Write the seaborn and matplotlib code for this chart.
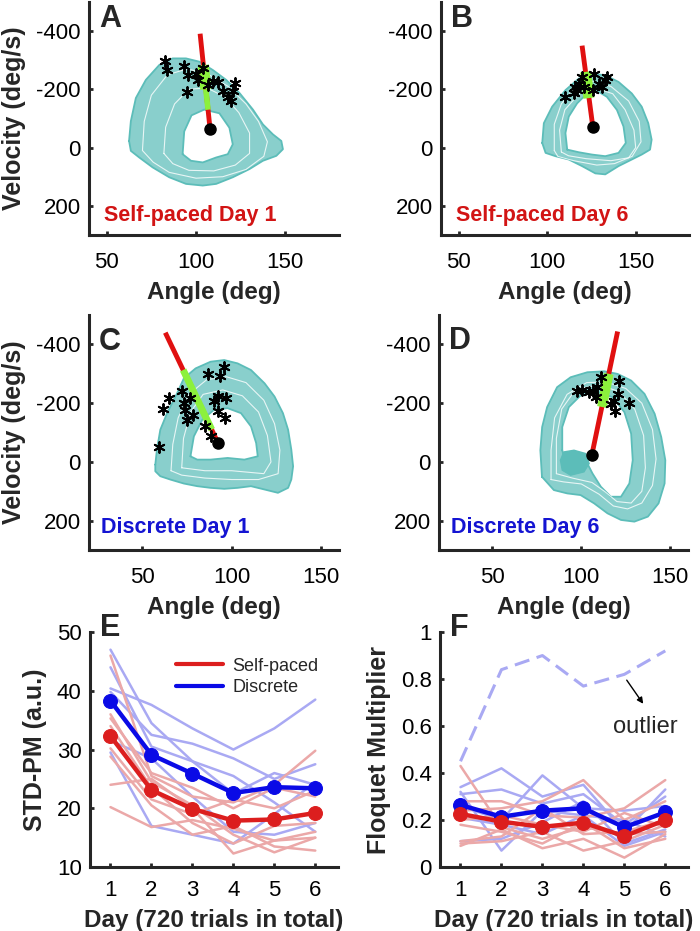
import numpy as np
import pandas as pd
import matplotlib
matplotlib.use('Agg')
import matplotlib.pyplot as plt
from matplotlib.lines import Line2D
import seaborn as sns

# ---- phase portraits (angle deg, velocity deg/s) ----
a_outer_x = [62.5, 63.5, 66.3, 71.9, 79.4, 86.9, 94.4, 101.9, 109.4, 116.9, 124.4, 131.9, 137.5, 143.1, 147.8, 148.7,
             145.0, 137.5, 130.0, 120.6, 111.3, 103.8, 94.4, 85.0, 75.7, 68.2, 63.5]
a_outer_y = [-22.8, -90.8, -170.2, -232.5, -283.5, -306.2, -306.2, -294.9, -266.5, -232.5, -187.2, -130.5, -79.5, -45.4,
             -22.8, 5.6, 28.3, 45.2, 73.6, 101.9, 124.6, 130.3, 124.6, 101.9, 67.9, 33.9, 11.2]
a_inner_x = [92.5, 93.4, 97.5, 104.6, 113.1, 118.7, 120.6, 117.8, 111.3, 103.8, 97.2]
a_inner_y = [22.6, -55.4, -110.8, -130.5, -117.8, -68.1, -11.4, 22.6, 33.9, 50.9, 45.2]
a_mid_x = [70, 71, 75, 84, 95, 106, 118, 128, 135, 140, 138, 128, 115, 100, 85, 76]
a_mid_y = [10, -90, -180, -250, -270, -255, -210, -150, -90, -20, 30, 75, 100, 105, 85, 50]
a_mid2_x = [82, 83, 88, 96, 106, 116, 124, 130, 130, 122, 110, 96, 87]
a_mid2_y = [20, -70, -150, -200, -205, -175, -120, -50, 20, 60, 80, 78, 55]
a_star_x = [82.8, 83.7, 93.5, 95.3, 100.0, 101.0, 95.0, 109.7, 112.2, 115.4, 119.7, 121.6, 121.0, 117.8, 104.1, 106.6]
a_star_y = [-298, -266, -280, -250, -252, -232, -190, -229, -225, -196, -159, -223, -196, -172, -272, -215]
a_section_x = [102.3, 107.9]
a_section_y = [-391, -62.5]
a_green_x = [104.1, 105.5, 106.75]
a_green_y = [-283, -200, -130]

b_outer_x = [97.2, 98.1, 102.8, 110.3, 117.8, 125.3, 132.8, 140.3, 147.8, 153.4, 157.1, 159.0, 158.1, 153.4, 147.8,
             140.3, 132.8, 127.2, 119.7, 112.2, 104.7, 99.1]
b_outer_y = [-15.8, -83.8, -140.5, -197.2, -236.9, -253.9, -248.2, -225.5, -185.9, -140.5, -83.8, -27.1, 6.9, 23.9,
             40.9, 63.6, 91.9, 88.5, 63.6, 40.9, 29.5, 18.2]
b_inner_x = [111.3, 110.3, 112.2, 116.9, 122.5, 128.1, 133.7, 139.4, 143.1, 144.4, 140.3, 132.8, 125.3, 117.8]
b_inner_y = [6.9, -49.8, -106.5, -151.9, -185.9, -195.0, -174.5, -129.2, -72.5, -15.8, 18.2, 29.5, 23.9, 15.9]
b_mid_x = [104, 104, 108, 116, 126, 136, 146, 152, 153, 148, 138, 128, 115, 106]
b_mid_y = [10, -80, -150, -210, -228, -210, -160, -90, -20, 30, 55, 60, 45, 30]
b_mid2_x = [108, 107, 110, 118, 127, 137, 144, 149, 150, 146, 136, 122, 112]
b_mid2_y = [15, -60, -130, -185, -205, -185, -130, -60, 0, 35, 45, 38, 28]
b_star_x = [109.9, 117.8, 116.9, 119.7, 126.2, 125.8, 129.0, 132.8, 133.7, 130.9, 121.0, 115.9, 115.0]
b_star_y = [-175, -220, -197, -243, -254, -197, -220, -231, -243, -209, -209, -209, -186]
b_section_x = [119.7, 125.8]
b_section_y = [-350, -70]
b_green_x = [121.7, 123.6]
b_green_y = [-260, -170]

c_outer_x = [57.2, 58.1, 60.0, 63.8, 69.4, 73.2, 79.8, 88.2, 95.8, 103.3, 110.8, 118.4, 124.0, 128.7, 131.6, 133.4,
             134.4, 133.4, 131.6, 125.9, 118.4, 110.8, 103.3, 95.8, 88.2, 80.7, 73.2, 65.6, 60.0, 57.2]
c_outer_y = [9.2, -41.7, -109.5, -166.0, -233.8, -284.7, -318.5, -341.2, -346.8, -335.5, -312.9, -267.7, -222.5,
             -166.0, -109.5, -41.7, 14.8, 60.0, 88.3, 105.2, 93.9, 82.6, 88.3, 91.6, 88.3, 82.6, 73.6, 60.0, 48.7, 31.8]
c_inner_x = [76.9, 78.8, 83.5, 90.1, 97.7, 105.2, 110.8, 113.7, 114.6, 107.1, 97.7, 88.2, 80.7]
c_inner_y = [-19.1, -86.9, -143.4, -177.3, -182.9, -166.0, -120.8, -64.3, -19.1, -7.8, -13.5, -7.8, -7.8]
c_mid_x = [66, 67, 70, 76, 86, 97, 108, 118, 124, 127, 126, 115, 100, 85, 72]
c_mid_y = [30, -60, -150, -230, -280, -290, -270, -210, -130, -40, 40, 60, 60, 55, 45]
c_mid2_x = [72, 73, 77, 84, 95, 106, 115, 120, 122, 118, 100, 85]
c_mid2_y = [20, -80, -170, -230, -245, -225, -170, -90, 0, 40, 30, 30]
c_star_x = [59.1, 61.3, 65.1, 71.9, 73.2, 74.1, 75.1, 76.9, 78.4, 86.7, 93.5, 95.8, 92.4, 96.7, 90.1, 92.4, 96.3,
            84.9, 88.2]
c_star_y = [-51, -180, -219, -240, -202, -177, -143, -217, -160, -298, -294, -322, -223, -217, -206, -172, -149,
            -121, -89]
c_section_x = [62.8, 92.4]
c_section_y = [-440, -64]
c_green_x = [72.8, 88.8]
c_green_y = [-313, -110]

d_outer_x = [77.9, 77.0, 78.0, 80.8, 86.4, 94.0, 103.4, 112.9, 120.4, 128.0, 135.5, 141.2, 144.9, 147.2, 146.8,
             143.4, 137.4, 129.8, 122.3, 114.7, 107.2, 99.6, 92.1, 84.6]
d_outer_y = [50.7, -39.7, -118.8, -186.6, -254.4, -288.3, -305.3, -308.6, -299.6, -277.0, -231.8, -164.0, -84.9,
             -5.8, 73.3, 141.1, 186.3, 203.3, 197.6, 175.0, 141.1, 112.9, 107.2, 95.9]
d_inner_x = [89.3, 89.3, 93.0, 99.6, 109.1, 117.6, 124.2, 128.0, 128.9, 127.0, 122.3, 116.6, 111.0, 106.3, 103.4,
             95.9, 90.2]
d_inner_y = [-39.7, -118.8, -186.6, -226.1, -237.4, -220.5, -169.6, -96.2, -5.8, 73.3, 118.5, 118.5, 84.6, 39.4,
             5.5, -5.8, -17.1]
d_mid_x = [83, 83, 85, 92, 103, 114, 125, 134, 140, 142, 140, 134, 126, 118, 110, 100, 90]
d_mid_y = [60, -40, -150, -230, -270, -272, -250, -200, -110, -10, 80, 140, 160, 150, 110, 75, 68]
d_mid2_x = [86, 86, 89, 97, 110, 121, 130, 135, 136, 134, 128, 120, 113, 106, 95]
d_mid2_y = [40, -80, -180, -248, -262, -240, -180, -90, 20, 100, 140, 135, 100, 70, 55]
d_blob_x = [88.3, 90.2, 95.9, 102.5, 104.4, 101.5, 94.0, 89.3]
d_blob_y = [-5.8, -34.0, -39.7, -28.4, 5.5, 33.8, 45.1, 28.1]
d_star_x = [97.4, 100.6, 104.4, 108.1, 111.0, 109.1, 121.3, 127.0, 118.5, 120.4, 119.1, 116.6, 106.8]
d_star_y = [-241, -245, -237, -220, -288, -254, -277, -200, -209, -232, -175, -198, -243]
d_section_x = [120.4, 105.9]
d_section_y = [-444, -23]
d_green_x = [115.4, 111.6]
d_green_y = [-300, -187]

# ---- panel E: STD-PM ----
days = [1, 2, 3, 4, 5, 6]
std_self_mean = [32.3, 23.1, 19.9, 17.9, 18.1, 19.2]
std_disc_mean = [38.3, 29.1, 25.9, 22.6, 23.6, 23.4]
std_self_subj = [
    [46.0, 25.5, 22.0, 21.0, 24.0, 29.8],
    [36.0, 24.5, 20.5, 15.5, 12.5, 15.0],
    [35.3, 26.0, 23.5, 20.0, 23.5, 22.0],
    [34.0, 23.5, 17.5, 14.0, 17.0, 17.5],
    [30.2, 21.5, 19.0, 21.5, 20.0, 23.0],
    [28.8, 20.5, 15.5, 17.0, 13.5, 12.8],
    [24.0, 25.0, 20.0, 12.3, 14.5, 15.0],
    [20.2, 16.8, 18.0, 16.5, 14.5, 16.0],
]
std_disc_subj = [
    [47.0, 34.5, 28.0, 22.5, 26.0, 24.0],
    [40.4, 37.6, 33.6, 30.0, 33.6, 38.5],
    [39.8, 32.5, 31.0, 28.5, 25.0, 27.5],
    [44.0, 30.5, 28.0, 25.5, 21.0, 16.0],
    [31.5, 28.5, 22.0, 16.0, 15.5, 17.5],
    [29.5, 17.0, 15.5, 14.0, 19.0, 24.5],
]

# ---- panel F: Floquet multiplier ----
fm_self_mean = [0.226, 0.193, 0.171, 0.189, 0.131, 0.200]
fm_disc_mean = [0.264, 0.214, 0.240, 0.250, 0.169, 0.233]
fm_outlier = [0.45, 0.84, 0.90, 0.77, 0.82, 0.92]
fm_self_subj = [
    [0.43, 0.17, 0.12, 0.17, 0.14, 0.15],
    [0.28, 0.28, 0.22, 0.21, 0.25, 0.37],
    [0.24, 0.25, 0.28, 0.37, 0.20, 0.28],
    [0.20, 0.22, 0.18, 0.15, 0.23, 0.17],
    [0.11, 0.13, 0.25, 0.14, 0.15, 0.20],
    [0.18, 0.15, 0.10, 0.19, 0.08, 0.12],
    [0.09, 0.16, 0.08, 0.12, 0.04, 0.14],
    [0.10, 0.11, 0.15, 0.07, 0.11, 0.18],
]
fm_disc_subj = [
    [0.34, 0.42, 0.30, 0.35, 0.15, 0.33],
    [0.31, 0.33, 0.27, 0.31, 0.18, 0.30],
    [0.26, 0.20, 0.39, 0.25, 0.24, 0.26],
    [0.32, 0.07, 0.24, 0.22, 0.20, 0.13],
    [0.11, 0.12, 0.19, 0.28, 0.10, 0.16],
    [0.21, 0.18, 0.14, 0.22, 0.09, 0.15],
]

TEAL = '#5cbdb9'
RED = '#dc1e1e'
BLUE = '#0a0ae6'
LRED = '#eba8a8'
LBLUE = '#a9a9f3'
SPINE = '#262626'

sns.set_style('ticks')
plt.rcParams['font.family'] = ['Liberation Sans', 'DejaVu Sans']
plt.rcParams['axes.unicode_minus'] = False
plt.rcParams['axes.linewidth'] = 2.2


def closed(v):
    return list(v) + [v[0]]


def style_axes(ax, xpad):
    for s in ['top', 'right']:
        ax.spines[s].set_visible(False)
    for s in ['left', 'bottom']:
        ax.spines[s].set_color(SPINE)
        ax.spines[s].set_linewidth(2.2)
    ax.tick_params(direction='in', length=3, width=2, colors=SPINE, labelsize=16, labelcolor='black')
    ax.tick_params(axis='x', pad=xpad)
    ax.tick_params(axis='y', pad=6)


def draw_portrait(ax, outer, inner, mids, stars, section, green, xlim, letter, note, note_color, ylabel=True,
                  green_w=(8, 4), blob=None):
    ox, oy = outer
    ix, iy = inner
    ax.fill(closed(ox), closed(oy), color=TEAL, alpha=0.72, lw=0, zorder=1)
    ax.fill(closed(ix), closed(iy), color='white', lw=0, zorder=1.5)
    ax.plot(closed(ox), closed(oy), color=TEAL, lw=1.3, zorder=2)
    ax.plot(closed(ix), closed(iy), color=TEAL, lw=1.3, zorder=2)
    for mx, my in mids:
        ax.plot(closed(mx), closed(my), color='white', lw=0.8, alpha=0.8, zorder=2)
    if blob is not None:
        ax.fill(closed(blob[0]), closed(blob[1]), color=TEAL, lw=1, zorder=2)
    ax.plot(section[0], section[1], color='#e01010', lw=3.5, solid_capstyle='butt', zorder=3)
    gx, gy = green
    ax.plot(gx[:2], gy[:2], color='#8cf03c', lw=green_w[0], solid_capstyle='butt', zorder=4)
    if len(gx) > 2:
        ax.plot(gx[1:], gy[1:], color='#8cf03c', lw=green_w[1], solid_capstyle='butt', zorder=4)
    ax.scatter(stars[0], stars[1], marker=(6, 2, 0), s=60, c='black', linewidths=1.4, zorder=5)
    ax.plot(section[0][-1], section[1][-1], 'o', color='black', ms=8, zorder=6)
    ax.set_xlim(*xlim)
    ax.set_ylim(300, -500)
    ax.set_xticks([50, 100, 150])
    ax.set_yticks([-400, -200, 0, 200])
    style_axes(ax, 12)
    ax.set_xlabel('Angle (deg)', fontsize=17.5, fontweight='bold', labelpad=6)
    if ylabel:
        ax.set_ylabel('Velocity (deg/s)', fontsize=18, fontweight='bold', labelpad=7)
    ax.text(0.04, letter[1], letter[0], transform=ax.transAxes, fontsize=22, fontweight='bold',
            ha='left', va='top')
    ax.text(note[1], note[2], note[0], transform=ax.transAxes, fontsize=15.5, fontweight='bold',
            color=note_color, ha='left', va='center')


fig = plt.figure(figsize=(7, 9.31), dpi=100)
axA = fig.add_axes([0.127, 0.7476, 0.357, 0.2503])
axB = fig.add_axes([0.630, 0.7476, 0.354, 0.2503])
axC = fig.add_axes([0.127, 0.4092, 0.357, 0.2524])
axD = fig.add_axes([0.627, 0.4092, 0.356, 0.2524])
axE = fig.add_axes([0.1286, 0.0687, 0.354, 0.2524])
axF = fig.add_axes([0.6286, 0.0687, 0.354, 0.2524])

draw_portrait(axA, (a_outer_x, a_outer_y), (a_inner_x, a_inner_y), [(a_mid_x, a_mid_y), (a_mid2_x, a_mid2_y)],
              (a_star_x, a_star_y), (a_section_x, a_section_y), (a_green_x, a_green_y), (40, 180), ('A', 0.99),
              ('Self-paced Day 1', 0.06, 0.085), '#d21414')
draw_portrait(axB, (b_outer_x, b_outer_y), (b_inner_x, b_inner_y), [(b_mid_x, b_mid_y), (b_mid2_x, b_mid2_y)],
              (b_star_x, b_star_y), (b_section_x, b_section_y), (b_green_x, b_green_y), (40, 180), ('B', 0.99),
              ('Self-paced Day 6', 0.06, 0.085), '#d21414', ylabel=False)
draw_portrait(axC, (c_outer_x, c_outer_y), (c_inner_x, c_inner_y), [(c_mid_x, c_mid_y), (c_mid2_x, c_mid2_y)],
              (c_star_x, c_star_y), (c_section_x, c_section_y), (c_green_x, c_green_y), (20, 160), ('C', 0.95),
              ('Discrete Day 1', 0.05, 0.094), '#1414d2', green_w=(5, 5))
draw_portrait(axD, (d_outer_x, d_outer_y), (d_inner_x, d_inner_y), [(d_mid_x, d_mid_y), (d_mid2_x, d_mid2_y)],
              (d_star_x, d_star_y), (d_section_x, d_section_y), (d_green_x, d_green_y), (20, 160), ('D', 0.955),
              ('Discrete Day 6', 0.05, 0.094), '#1414d2', ylabel=False, green_w=(7, 7),
              blob=(d_blob_x, d_blob_y))


def subj_frame(rows):
    recs = []
    for i, r in enumerate(rows):
        for d, v in zip(days, r):
            recs.append({'subject': i, 'day': d, 'value': v})
    return pd.DataFrame(recs)


def summary_panel(ax, self_subj, disc_subj, self_mean, disc_mean, ylim, yticks, ylabel, letter):
    sns.lineplot(data=subj_frame(disc_subj), x='day', y='value', units='subject', estimator=None,
                 color=LBLUE, lw=1.8, ax=ax, zorder=2)
    sns.lineplot(data=subj_frame(self_subj), x='day', y='value', units='subject', estimator=None,
                 color=LRED, lw=1.8, ax=ax, zorder=2)
    sns.lineplot(x=days, y=disc_mean, color=BLUE, lw=3.2, marker='o', ms=10, mec=BLUE, ax=ax, zorder=4)
    sns.lineplot(x=days, y=self_mean, color=RED, lw=3.2, marker='o', ms=10, mec=RED, ax=ax, zorder=5)
    ax.set_xlim(0.5, 6.55)
    ax.set_ylim(*ylim)
    ax.set_xticks(days)
    ax.set_yticks(yticks)
    style_axes(ax, 9)
    ax.set_xlabel('Day (720 trials in total)', fontsize=17.5, fontweight='bold', labelpad=6)
    ax.set_ylabel(ylabel, fontsize=18, fontweight='bold', labelpad=7)
    ax.text(0.04, 0.985, letter, transform=ax.transAxes, fontsize=22, fontweight='bold', ha='left',
            va='baseline')


summary_panel(axE, std_self_subj, std_disc_subj, std_self_mean, std_disc_mean, (10, 50),
              [10, 20, 30, 40, 50], 'STD-PM (a.u.)', 'E')
handles = [Line2D([], [], color=RED, lw=3), Line2D([], [], color=BLUE, lw=3)]
axE.legend(handles, ['Self-paced', 'Discrete'], loc='upper left', bbox_to_anchor=(0.28, 0.96), frameon=False,
           fontsize=13, handlelength=2.6, handletextpad=0.55, labelspacing=0.25)

summary_panel(axF, fm_self_subj, fm_disc_subj, fm_self_mean, fm_disc_mean, (0, 1),
              [0, 0.2, 0.4, 0.6, 0.8, 1], 'Floquet Multiplier', 'F')
axF.set_yticklabels(['0', '0.2', '0.4', '0.6', '0.8', '1'])
axF.plot(days, fm_outlier, color=LBLUE, lw=2.2, dashes=(5, 2.5), zorder=2)
axF.annotate('', xy=(5.5, 0.685), xytext=(5.02, 0.805),
             arrowprops=dict(arrowstyle='-|>', color='black', lw=1, mutation_scale=9))
axF.text(5.5, 0.595, 'outlier', fontsize=17, ha='center', va='center')

fig.savefig('out.png', dpi=100)
